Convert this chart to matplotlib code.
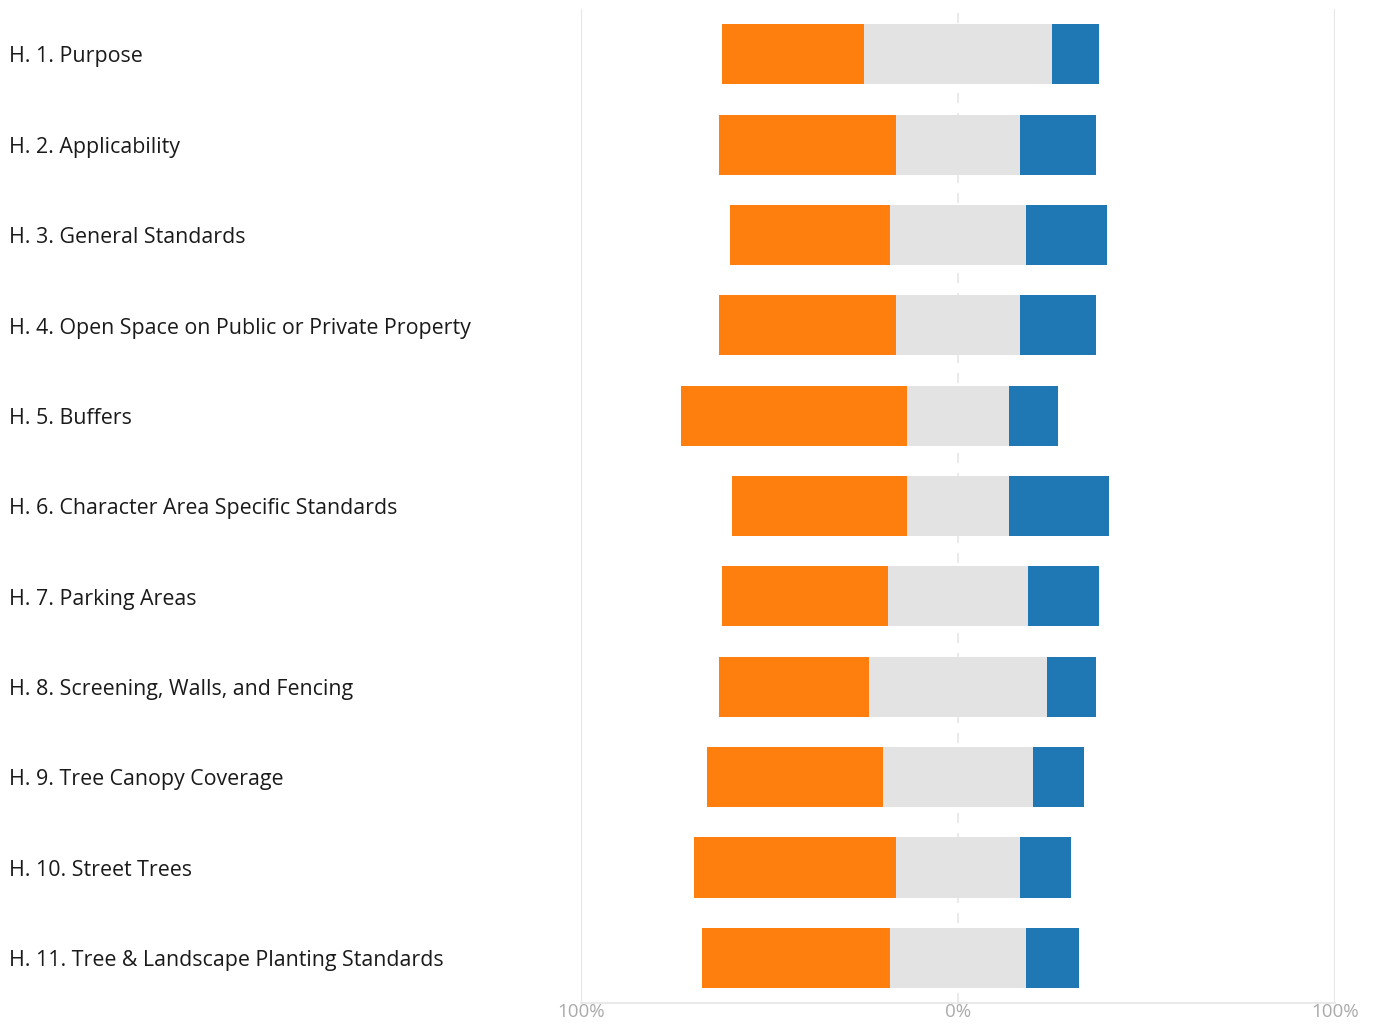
import matplotlib
matplotlib.use("Agg")
import matplotlib.pyplot as plt
import matplotlib.transforms as mtransforms

categories = [
    "H. 1. Purpose",
    "H. 2. Applicability",
    "H. 3. General Standards",
    "H. 4. Open Space on Public or Private Property",
    "H. 5. Buffers",
    "H. 6. Character Area Specific Standards",
    "H. 7. Parking Areas",
    "H. 8. Screening, Walls, and Fencing",
    "H. 9. Tree Canopy Coverage",
    "H. 10. Street Trees",
    "H. 11. Tree & Landscape Planting Standards",
]
negative = [37.5, 47, 42.5, 47, 60, 46.5, 44, 40, 46.5, 53.5, 50]
neutral = [50, 33, 36, 33, 27, 27, 37, 47, 40, 33, 36]
positive = [12.5, 20, 21.5, 20, 13, 26.5, 19, 13, 13.5, 13.5, 14]
tick_values = [-100, 0, 100]
tick_labels = ["100%", "0%", "100%"]

C_NEG = "#ff7f0e"
C_NEU = "#e3e3e3"
C_POS = "#1f77b4"

fig = plt.figure(figsize=(13.73, 10.26), dpi=100)
ax = fig.add_axes([0.4232, 0.0224, 0.5491, 0.9688])

ys = list(range(len(categories)))
h = 0.665
neg_left = [-(nu / 2) - ng for ng, nu in zip(negative, neutral)]
neu_left = [-(nu / 2) for nu in neutral]
pos_left = [nu / 2 for nu in neutral]

ax.barh(ys, negative, left=neg_left, height=h, color=C_NEG, zorder=3)
ax.barh(ys, neutral, left=neu_left, height=h, color=C_NEU, zorder=3)
ax.barh(ys, positive, left=pos_left, height=h, color=C_POS, zorder=3)

ax.set_xlim(-100, 100)
ax.set_ylim(len(categories) - 0.5, -0.5)

for s in ["top", "left", "right"]:
    ax.spines[s].set_visible(False)
ax.spines["bottom"].set_color("#e6e6e6")
ax.spines["bottom"].set_linewidth(1.2)

ax.axvline(-100, color="#e6e6e6", lw=1.5, zorder=1)
ax.axvline(100, color="#e6e6e6", lw=1.5, zorder=1)
ax.axvline(0, color="#e6e6e6", lw=1.2, ls=(0, (6, 6)), zorder=1)

ax.set_xticks(tick_values)
ax.set_xticklabels(tick_labels, color="#aaaaaa", fontsize=13.5, family="Open Sans")
ax.tick_params(axis="x", length=0, pad=0)
ax.set_yticks([])

trans = mtransforms.blended_transform_factory(fig.transFigure, ax.transData)
for y, lab in zip(ys, categories):
    ax.text(9 / 1373, y + 0.03, lab, transform=trans, ha="left", va="center",
            fontsize=15.4, color="#1a1a1a", family="Open Sans")

fig.savefig("out.png", dpi=100)
